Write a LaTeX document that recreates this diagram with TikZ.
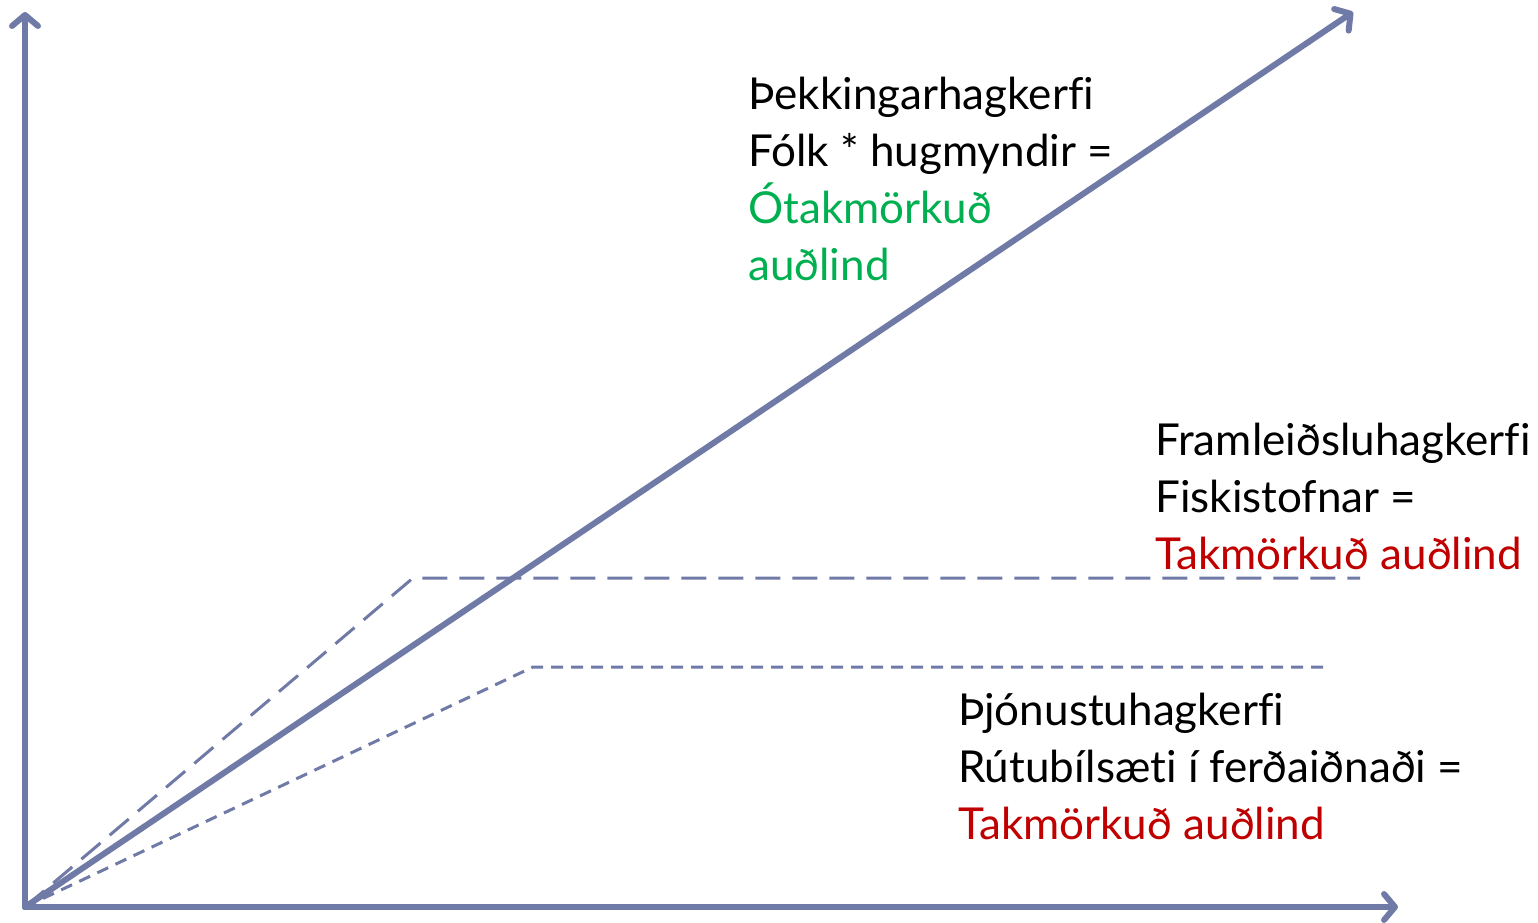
\documentclass[tikz,border=0pt]{standalone}
\usepackage{fontspec}
\setmainfont{Lato}[Ligatures=NoCommon]
\usetikzlibrary{arrows.meta,positioning}
\definecolor{axisblue}{RGB}{112,122,166}
\definecolor{goodgreen}{RGB}{0,176,80}
\definecolor{badred}{RGB}{192,0,0}

\begin{document}
\begin{tikzpicture}[x=1pt,y=1pt,
				axis/.style={
					draw=axisblue,
					line width=6pt,
					line cap=round,
					-{Straight Barb[length=11pt,width=26pt,line cap=round,line join=round]}
				},
				longdash/.style={
					draw=axisblue,
					line width=3pt,
					dash pattern=on 25pt off 12pt
				},
				shortdash/.style={
					draw=axisblue,
					line width=3pt,
					dash pattern=on 12pt off 8pt
				},
				txt/.style={
					anchor=base west,
					align=left,
					inner sep=0pt,
					font=\fontsize{44}{57}\selectfont
				}
			]
			\useasboundingbox (0,0) rectangle (1538,922);
			\coordinate (o) at (25,15);
			\coordinate (ytop) at (25,910);
			\coordinate (xend) at (1398,15);
			\coordinate (dend) at (1353,910);
			\coordinate (k1) at (413,344);
			\coordinate (k1e) at (1360,344);
			\coordinate (k2) at (533,255);
			\coordinate (k2e) at (1330,255);

			\draw[longdash] (o) -- (k1) -- (k1e);
			\draw[shortdash] (o) -- (k2) -- (k2e);
			\draw[axis] (o) -- (ytop);
			\draw[axis] (o) -- (xend);
			\draw[axis] (o) -- (dend);

			% base anchor sits on the last line
			\node[txt] (know) at (748,641)
			{Þekkingarhagkerfi\\Fólk * hugmyndir =\\\textcolor{goodgreen}{Ótakmörkuð}\\\textcolor{goodgreen}{auðlind}};
			\node[txt] (prod) at (1155,353)
			{Framleiðsluhagkerfi\\Fiskistofnar =\\\textcolor{badred}{Takmörkuð auðlind}};
			\node[txt] (serv) at (958,83)
			{Þjónustuhagkerfi\\Rútubílsæti í ferðaiðnaði =\\\textcolor{badred}{Takmörkuð auðlind}};
		\end{tikzpicture}
\end{document}
